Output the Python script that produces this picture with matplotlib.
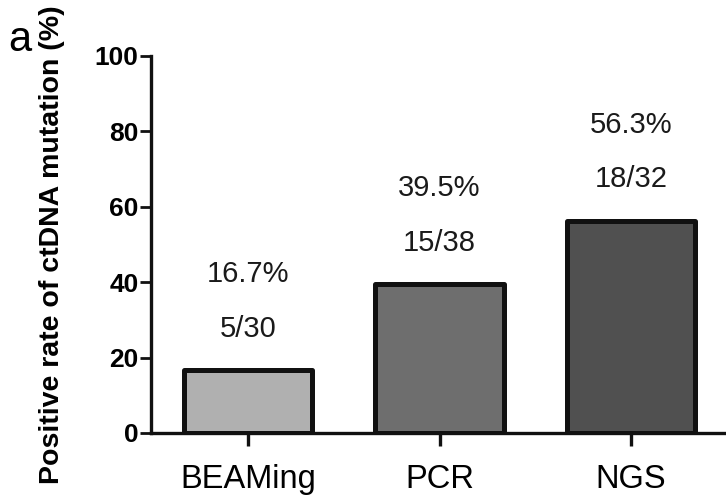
import matplotlib
matplotlib.use("Agg")
import matplotlib.pyplot as plt

categories = ["BEAMing", "PCR", "NGS"]
rates = [16.7, 39.5, 56.3]
pct_labels = ["16.7%", "39.5%", "56.3%"]
frac_labels = ["5/30", "15/38", "18/32"]
bar_colors = ["#b0b0b0", "#6e6e6e", "#505050"]
yticks = [0, 20, 40, 60, 80, 100]

plt.rcParams['font.family'] = ['Liberation Sans', 'DejaVu Sans']

fig = plt.figure(figsize=(7.26, 4.96), dpi=100)
ax = fig.add_axes([151/726, 63/496, 1 - 151/726, (433-56)/496])

x = list(range(len(categories)))
ax.bar(x, rates, width=0.67, color=bar_colors, edgecolor="#111111",
       linewidth=3.6, joinstyle="round", zorder=2)

for xi, r, p, f in zip(x, rates, pct_labels, frac_labels):
    ax.text(xi, r + 25.5, p, ha="center", va="center", fontsize=21, color="#1a1a1a")
    ax.text(xi, r + 11, f, ha="center", va="center", fontsize=21, color="#1a1a1a")

ax.set_xlim(-0.507, 2.496)
ax.set_ylim(0, 100)
ax.set_yticks(yticks)
ax.set_yticklabels([str(t) for t in yticks], fontsize=19, fontweight="bold")
ax.set_xticks(x)
ax.set_xticklabels(categories, fontsize=23.5)

for s in ["top", "right"]:
    ax.spines[s].set_visible(False)
for s in ["left", "bottom"]:
    ax.spines[s].set_linewidth(2.4)
    ax.spines[s].set_color("#111111")
    ax.spines[s].set_zorder(3)

ax.tick_params(axis="y", length=8, width=2, pad=1, color="#111111")
ax.tick_params(axis="x", length=9, width=2.4, pad=13, color="#111111")

ax.set_ylabel("Positive rate of ctDNA mutation (%)", fontsize=20.5,
              fontweight="bold", labelpad=21)

fig.text(0.027, 0.919, "a", fontsize=30, ha="center", va="center")

fig.savefig("out.png", dpi=100)
